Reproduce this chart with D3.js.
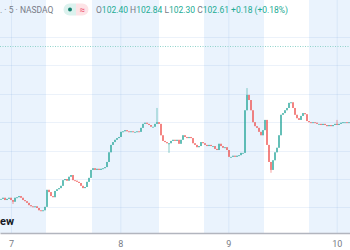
<!DOCTYPE html>
<html>
<head>
<meta charset="utf-8">
<script src="https://cdn.jsdelivr.net/npm/d3@7"></script>
<style>
  body { margin: 0; background: #fff; }
  svg { display: block; font-family: Roboto, "Noto Sans", sans-serif; }
</style>
</head>
<body>
<div id="chart"></div>
<script>

// frame
const FRAME_WIDTH = 350;
const FRAME_HEIGHT = 250;
const AXIS_Y = 233;

// 5 min closes (one candle per slot)
const CLOSES = [
  101.15, 101.17, 101.13, 101.15, 101.17, 101.13, 101.10, 101.17, 101.18, 101.20,
  101.17, 101.13, 101.11, 101.08, 101.04, 101.02, 101.01, 101.02, 100.99, 100.95,
  100.94, 100.95, 101.01, 101.31, 101.27, 101.20, 101.18, 101.29, 101.32, 101.34,
  101.38, 101.48, 101.50, 101.47, 101.54, 101.57, 101.48, 101.47, 101.45, 101.43,
  101.38, 101.34, 101.36, 101.45, 101.52, 101.66, 101.69, 101.66, 101.68, 101.66,
  101.68, 101.69, 101.71, 101.80, 101.97, 102.10, 102.15, 102.19, 102.22, 102.24,
  102.33, 102.34, 102.36, 102.34, 102.33, 102.34, 102.33, 102.33, 102.34, 102.33,
  102.40, 102.47, 102.49, 102.47, 102.45, 102.42, 102.42, 102.47, 102.50, 102.47,
  102.27, 102.17, 102.15, 102.13, 102.13, 102.17, 102.19, 102.17, 102.19, 102.12,
  102.19, 102.27, 102.24, 102.22, 102.24, 102.22, 102.13, 102.10, 102.06, 102.08,
  102.15, 102.13, 102.10, 102.08, 102.10, 102.08, 102.08, 102.03, 102.01, 102.12,
  102.08, 102.05, 102.06, 102.01, 101.89, 101.89, 101.91, 101.89, 101.91, 101.92,
  101.96, 101.96, 102.71, 102.98, 102.89, 102.71, 102.50, 102.43, 102.40, 102.33,
  102.27, 102.36, 102.54, 102.10, 101.80, 101.66, 101.83, 101.97, 102.05, 102.27,
  102.63, 102.66, 102.71, 102.75, 102.84, 102.85, 102.75, 102.63, 102.57, 102.54,
  102.61, 102.66, 102.64, 102.52, 102.50, 102.49, 102.50, 102.49, 102.47, 102.47,
  102.45, 102.47, 102.45, 102.43, 102.45, 102.43, 102.45, 102.47, 102.45, 102.47,
  102.49, 102.50, 102.50, 102.49, 102.50
];
const FIRST_OPEN = 101.15;

// long wicks: [candle, high, low]
const WICKS = [
  [6, null, 101.06],
  [78, 102.75, null],
  [84, null, 101.96],
  [123, 103.10, null],
  [135, null, 101.61],
  [168, 102.54, null]
];

// price grid + dotted reference line
const PRICE_TICKS = [101.0, 101.5, 102.0, 102.5, 103.0, 103.5, 104.0];
const REF_PRICE = 103.84;

// days on the time axis (candle slot where each day starts)
const DAY_LABELS = ["7", "8", "9", "10"];
const DAY_SLOTS = [5.5, 60.15, 114.15, 168.35];

// regular sessions (white), everything else is extended hours (blue)
const SESSIONS = [[23, 46], [79.5, 102], [132, 154.5]];

// header legend
const SYMBOL_TEXT = ". \u00b7 5 \u00b7 NASDAQ";
const OHLC_KEYS = ["O", "H", "L", "C"];
const OHLC_VALUES = ["102.40", "102.84", "102.30", "102.61"];
const CHANGE_TEXT = "+0.18 (+0.18%)";

const UP = "#26a69a";
const DOWN = "#ef5350";
const BAND = "#eaf3fd";
const GRID = "rgba(100,150,210,0.12)";

const svg = d3.select("#chart")
  .append("svg")
    .attr("width", FRAME_WIDTH)
    .attr("height", FRAME_HEIGHT);

const X_SCALE = d3.scaleLinear()
  .domain([0, CLOSES.length])
  .range([0, FRAME_WIDTH]);

const Y_SCALE = d3.scaleLinear()
  .domain([100.55, 104.65])
  .range([AXIS_Y, 0]);

// extended hours bands = gaps between regular sessions
const bands = [];
let prev = 0;
SESSIONS.forEach((s) => { bands.push([prev, s[0]]); prev = s[1]; });
bands.push([prev, CLOSES.length]);

svg.selectAll(".band")
  .data(bands)
  .enter()
  .append("rect")
    .attr("class", "band")
    .attr("x", (d) => X_SCALE(d[0]))
    .attr("width", (d) => X_SCALE(d[1]) - X_SCALE(d[0]))
    .attr("y", 0)
    .attr("height", AXIS_Y)
    .attr("fill", BAND);

// grid
svg.append("g")
  .call(d3.axisLeft(Y_SCALE).tickValues(PRICE_TICKS).tickSize(-FRAME_WIDTH).tickFormat(""))
  .call((g) => g.select(".domain").remove())
  .call((g) => g.selectAll("line").attr("stroke", GRID).attr("shape-rendering", "crispEdges"));

svg.append("g")
  .attr("transform", "translate(0," + AXIS_Y + ")")
  .call(d3.axisBottom(X_SCALE).tickValues(DAY_SLOTS).tickSize(-AXIS_Y).tickFormat(""))
  .call((g) => g.select(".domain").remove())
  .call((g) => g.selectAll("line").attr("stroke", GRID));

// dotted price line
svg.append("line")
  .attr("x1", 0)
  .attr("x2", FRAME_WIDTH)
  .attr("y1", Math.round(Y_SCALE(REF_PRICE)) + 0.5)
  .attr("y2", Math.round(Y_SCALE(REF_PRICE)) + 0.5)
  .attr("stroke", "#8fd3ca")
  .attr("stroke-dasharray", "1,1.5");

// candles
const candles = CLOSES.map((c, i) => {
  const o = i === 0 ? FIRST_OPEN : CLOSES[i - 1];
  let h = Math.max(o, c);
  let l = Math.min(o, c);
  WICKS.forEach((w) => {
    if (w[0] === i) {
      if (w[1] !== null) h = w[1];
      if (w[2] !== null) l = w[2];
    }
  });
  return {i: i, o: o, h: h, l: l, c: c};
});

const bw = (X_SCALE(1) - X_SCALE(0)) * 0.6;

const candle = svg.selectAll(".candle")
  .data(candles)
  .enter()
  .append("g")
    .attr("class", "candle");

candle.append("line")
  .attr("x1", (d) => X_SCALE(d.i + 0.5))
  .attr("x2", (d) => X_SCALE(d.i + 0.5))
  .attr("y1", (d) => Y_SCALE(d.h))
  .attr("y2", (d) => Y_SCALE(d.l))
  .attr("stroke", (d) => d.c >= d.o ? UP : DOWN)
  .attr("stroke-opacity", 0.7)
  .attr("stroke-width", 0.8);

candle.append("rect")
  .attr("x", (d) => X_SCALE(d.i + 0.5) - bw / 2)
  .attr("width", bw)
  .attr("y", (d) => Y_SCALE(Math.max(d.o, d.c)))
  .attr("height", (d) => Math.max(1, Math.abs(Y_SCALE(d.o) - Y_SCALE(d.c))))
  .attr("fill", (d) => d.c >= d.o ? UP : DOWN);

// time axis
svg.append("rect")
  .attr("x", 0).attr("y", AXIS_Y)
  .attr("width", FRAME_WIDTH).attr("height", FRAME_HEIGHT - AXIS_Y)
  .attr("fill", "#fff");

const xAxis = svg.append("g")
  .attr("transform", "translate(0," + AXIS_Y + ")")
  .call(d3.axisBottom(X_SCALE).tickValues(DAY_SLOTS).tickSize(0).tickPadding(8)
        .tickFormat((d, k) => DAY_LABELS[k]));

xAxis.select(".domain").attr("stroke", "#b2b5be").attr("stroke-width", 1.5);
xAxis.selectAll("text")
  .attr("font-size", "9px")
  .attr("fill", "#787b86")
  .attr("font-family", "Roboto, sans-serif");

// logo tail
svg.append("text")
  .attr("x", 0)
  .attr("y", 225)
  .attr("font-size", "11px")
  .attr("font-weight", "bold")
  .attr("fill", "#131722")
  .text("ew");

// header
svg.append("text")
  .attr("x", 0)
  .attr("y", 13.3)
  .attr("font-size", "8.5px")
  .attr("fill", "#787b86")
  .text(SYMBOL_TEXT);

svg.append("path")
  .attr("d", "M69.5,3.5 H76 V15.5 H69.5 A6,6 0 0 1 69.5,3.5 Z")
  .attr("fill", "#dcf2ee");
svg.append("path")
  .attr("d", "M76,3.5 H82.5 A6,6 0 0 1 82.5,15.5 H76 Z")
  .attr("fill", "#fde3e6");
svg.append("circle")
  .attr("cx", 70).attr("cy", 9.5).attr("r", 2)
  .attr("fill", "#16806f");
svg.append("text")
  .attr("x", 82).attr("y", 12.5)
  .attr("text-anchor", "middle")
  .attr("font-size", "9px")
  .attr("font-weight", "bold")
  .attr("fill", "#f0607a")
  .text("\u2248");

const legend = svg.append("text")
  .attr("x", 96)
  .attr("y", 13.3)
  .attr("font-size", "8.5px");

OHLC_KEYS.forEach((k, i) => {
  legend.append("tspan").attr("fill", "#787b86").text((i > 0 ? " " : "") + k);
  legend.append("tspan").attr("fill", "#22ab94").text(OHLC_VALUES[i]);
});
legend.append("tspan").attr("fill", "#22ab94").text(" " + CHANGE_TEXT);

</script>
</body>
</html>
